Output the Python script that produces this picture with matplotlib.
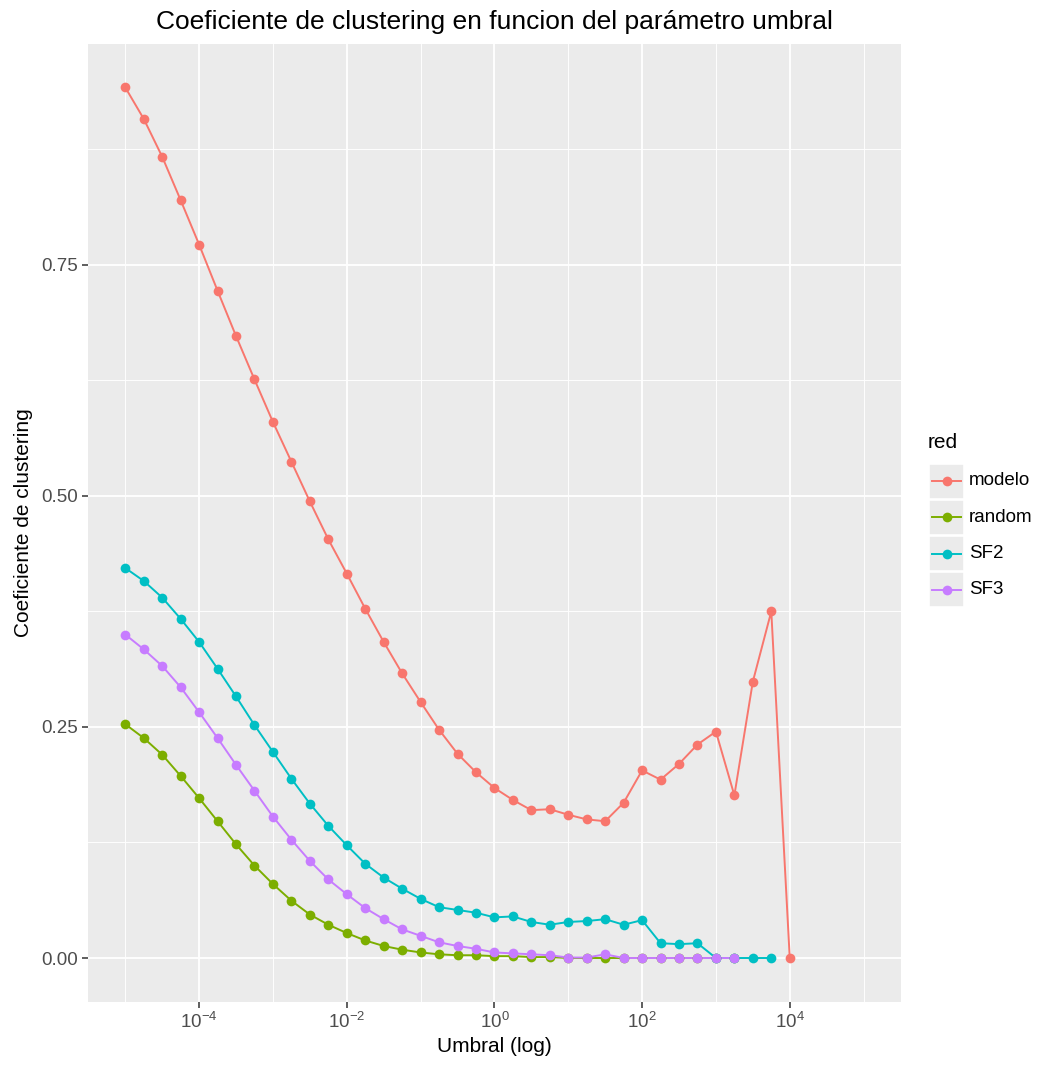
import matplotlib
matplotlib.use("Agg")
import matplotlib.pyplot as plt
from matplotlib.lines import Line2D
from matplotlib.patches import Rectangle
from matplotlib.ticker import NullFormatter

plt.rcParams['font.family'] = ['Liberation Sans', 'DejaVu Sans']
plt.rcParams['mathtext.fontset'] = 'custom'
plt.rcParams['mathtext.rm'] = 'Liberation Sans'
plt.rcParams['mathtext.it'] = 'Liberation Sans'

# umbral exponents: 10^-5 ... 10^4 in steps of 10^0.25
exponents = [-5 + 0.25 * i for i in range(37)]

modelo = [0.942, 0.908, 0.867, 0.820, 0.772, 0.722, 0.673, 0.626, 0.580, 0.537,
          0.494, 0.453, 0.416, 0.378, 0.342, 0.308, 0.277, 0.247, 0.221, 0.201,
          0.184, 0.171, 0.160, 0.161, 0.155, 0.150, 0.148, 0.168, 0.203, 0.193,
          0.210, 0.231, 0.245, 0.176, 0.299, 0.375, 0.0]
random_ = [0.253, 0.238, 0.220, 0.197, 0.173, 0.148, 0.123, 0.100, 0.080, 0.062,
           0.047, 0.036, 0.027, 0.019, 0.013, 0.009, 0.006, 0.004, 0.003, 0.003,
           0.002, 0.002, 0.001, 0.001, 0.0, 0.0, 0.0, 0.0, 0.0, 0.0,
           0.0, 0.0, 0.0, 0.0]
sf2 = [0.422, 0.408, 0.390, 0.367, 0.342, 0.313, 0.283, 0.252, 0.223, 0.194,
       0.167, 0.143, 0.122, 0.102, 0.087, 0.075, 0.064, 0.055, 0.052, 0.049,
       0.044, 0.045, 0.039, 0.036, 0.039, 0.040, 0.042, 0.036, 0.041, 0.016,
       0.015, 0.016, 0.0, 0.0, 0.0, 0.0]
sf3 = [0.350, 0.334, 0.316, 0.293, 0.266, 0.238, 0.209, 0.181, 0.153, 0.128,
       0.105, 0.085, 0.069, 0.054, 0.042, 0.031, 0.024, 0.017, 0.013, 0.010,
       0.006, 0.005, 0.004, 0.003, 0.0005, 0.0005, 0.004, 0.0, 0.0, 0.0,
       0.0, 0.0, 0.0, 0.0]

labels = ['modelo', 'random', 'SF2', 'SF3']
series = [modelo, random_, sf2, sf3]
colors = ['#F8766D', '#7CAE00', '#00BFC4', '#C77CFF']

W, H = 1039, 1068
fig = plt.figure(figsize=(W / 100, H / 100), dpi=100)
ax = fig.add_axes([88 / W, 1 - 1002 / H, (901 - 88) / W, (1002 - 44) / H])
ax.set_facecolor('#EBEBEB')

# lines first, then points on top (like geom_line + geom_point)
for vals, c in zip(series, colors):
    x = [10 ** e for e in exponents[:len(vals)]]
    ax.plot(x, vals, color=c, lw=1.4, zorder=3)
for vals, c in zip(series, colors):
    x = [10 ** e for e in exponents[:len(vals)]]
    ax.plot(x, vals, 'o', color=c, ms=7, mec='none', zorder=4)

ax.set_xscale('log')
ax.set_xlim(10 ** -5.505, 10 ** 5.507)
ax.set_ylim(-0.0476, 0.989)

ax.set_xticks([1e-4, 1e-2, 1e0, 1e2, 1e4])
ax.set_xticklabels(['$10^{-4}$', '$10^{-2}$', '$10^{0}$', '$10^{2}$', '$10^{4}$'])
ax.set_xticks([1e-5, 1e-3, 1e-1, 1e1, 1e3, 1e5], minor=True)
ax.xaxis.set_minor_formatter(NullFormatter())
ax.set_yticks([0.0, 0.25, 0.5, 0.75])
ax.set_yticklabels(['0.00', '0.25', '0.50', '0.75'])
ax.set_yticks([0.125, 0.375, 0.625, 0.875], minor=True)
ax.yaxis.set_minor_formatter(NullFormatter())
ax.tick_params(axis='both', which='major', length=4, width=1.1, color='#333333',
               labelsize=13.5, labelcolor='#4D4D4D', pad=3)
ax.tick_params(axis='both', which='minor', length=0)
ax.grid(True, which='major', color='white', lw=1.3)
ax.grid(True, which='minor', color='white', lw=0.65)
ax.set_axisbelow(True)
for s in ax.spines.values():
    s.set_visible(False)

ax.set_xlabel('Umbral (log)', fontsize=15, labelpad=4)
ax.set_ylabel('Coeficiente de clustering', fontsize=15, labelpad=6)
fig.text((88 + 901) / 2 / W, 1 - 22 / H,
         'Coeficiente de clustering en funcion del parámetro umbral',
         ha='center', va='center', fontsize=19)

# legend, ggplot style
fig.text(928 / W, 1 - 443 / H, 'red', ha='left', va='center', fontsize=15)
key_h = 36.3
for i, (lab, c) in enumerate(zip(labels, colors)):
    cy = 481 + i * key_h
    fig.patches.append(Rectangle((929 / W, 1 - (cy + 17.5) / H), 35 / W, 35 / H,
                                 transform=fig.transFigure, facecolor='#EBEBEB',
                                 edgecolor='white', lw=1.2))
    fig.lines.append(Line2D([932 / W, 961 / W], [1 - cy / H] * 2, color=c, lw=1.4,
                            transform=fig.transFigure))
    fig.lines.append(Line2D([946.5 / W], [1 - cy / H], marker='o', color=c, ms=7,
                            mec='none', transform=fig.transFigure))
    fig.text(969 / W, 1 - cy / H, lab, ha='left', va='center', fontsize=13.5)

fig.savefig('out.png', dpi=100)
